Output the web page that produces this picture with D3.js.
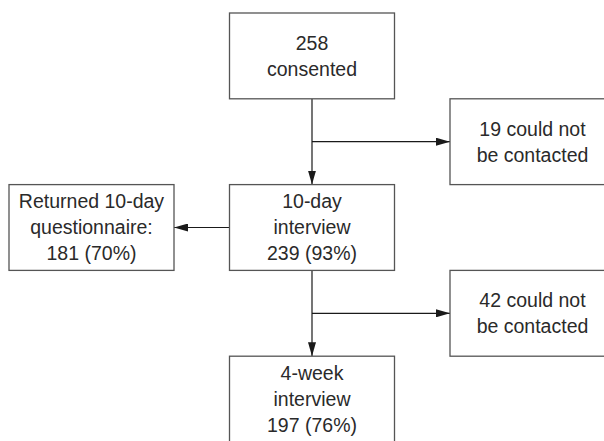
<!DOCTYPE html>
<html>
<head>
<meta charset="utf-8">
<script src="https://cdn.jsdelivr.net/npm/d3@7"></script>
<style>
  body { margin: 0; background: #fff; }
  svg { display: block; }
</style>
</head>
<body>
<div id="chart"></div>
<script>
// flowchart content
const nodeIds = ['consented', 'lost1', 'returned', 'day10', 'lost2', 'week4'];
const nodeLabels = [
  ['258', 'consented'],
  ['19 could not', 'be contacted'],
  ['Returned 10-day', 'questionnaire:', '181 (70%)'],
  ['10-day', 'interview', '239 (93%)'],
  ['42 could not', 'be contacted'],
  ['4-week', 'interview', '197 (76%)'],
];
// grid column / row of each box
const nodeCols = [1, 2, 0, 1, 2, 1];
const nodeRows = [0, 1, 2, 2, 3, 4];
// links: [from, to, type]  (down = straight, side = branch off the down line)
const links = [
  ['consented', 'day10', 'down'],
  ['consented', 'lost1', 'side'],
  ['day10', 'returned', 'left'],
  ['day10', 'week4', 'down'],
  ['day10', 'lost2', 'side'],
];

function flowchart() {
  const width = 604, height = 441;
  const svg = d3
    .select('div#chart')
    .append('svg')
    .attr('width', width)
    .attr('height', height);

  const boxW = 165;
  const colScale = d3.scaleLinear().domain([0, 2]).range([9, 450]);
  const rowScale = d3.scaleLinear().domain([0, 5]).range([13, 442]);
  const boxH = rowScale(1) - rowScale(0);

  const nodes = nodeIds.map((id, i) => ({
    id,
    lines: nodeLabels[i],
    x: colScale(nodeCols[i]),
    y: rowScale(nodeRows[i]),
  }));
  const byId = {};
  nodes.forEach((n) => (byId[n.id] = n));

  svg
    .append('defs')
    .append('marker')
    .attr('id', 'arrow')
    .attr('viewBox', '0 0 14 8')
    .attr('refX', 14)
    .attr('refY', 4)
    .attr('markerWidth', 14)
    .attr('markerHeight', 8)
    .attr('markerUnits', 'userSpaceOnUse')
    .attr('orient', 'auto')
    .append('path')
    .attr('d', 'M0,0 L14,4 L0,8 Z')
    .attr('fill', '#1a1a1a');

  const lineGen = d3.line();
  const linkPts = links.map(([s, t, type]) => {
    const a = byId[s], b = byId[t];
    const ax = a.x + boxW / 2;
    if (type === 'down') return [[ax, a.y + boxH], [ax, b.y]];
    if (type === 'left') return [[a.x, a.y + boxH / 2], [b.x + boxW, b.y + boxH / 2]];
    return [[ax, b.y + boxH / 2], [b.x, b.y + boxH / 2]];
  });

  svg
    .append('g')
    .attr('id', 'links')
    .selectAll('path')
    .data(linkPts)
    .join('path')
    .attr('d', (d) => lineGen(d))
    .attr('fill', 'none')
    .attr('stroke', '#1a1a1a')
    .attr('stroke-width', 1.2)
    .attr('marker-end', 'url(#arrow)');

  const boxes = svg
    .append('g')
    .attr('id', 'boxes')
    .selectAll('g')
    .data(nodes)
    .join('g')
    .attr('transform', (d) => `translate(${d.x},${d.y})`);

  boxes
    .append('rect')
    .attr('width', boxW)
    .attr('height', boxH)
    .attr('fill', '#fff')
    .attr('stroke', '#555')
    .attr('stroke-width', 1.3);

  const lineGap = 26;
  boxes
    .append('text')
    .attr('text-anchor', 'middle')
    .attr('font-family', 'Liberation Sans, Arial, sans-serif')
    .attr('font-size', 19.5)
    .attr('fill', '#2a2a2a')
    .selectAll('tspan')
    .data((d) => d.lines.map((l, i) => ({ l, i, n: d.lines.length })))
    .join('tspan')
    .attr('x', boxW / 2)
    .attr('y', (d) => boxH / 2 + (d.i - (d.n - 1) / 2) * lineGap + 7)
    .text((d) => d.l);
}

flowchart();
</script>
</body>
</html>
